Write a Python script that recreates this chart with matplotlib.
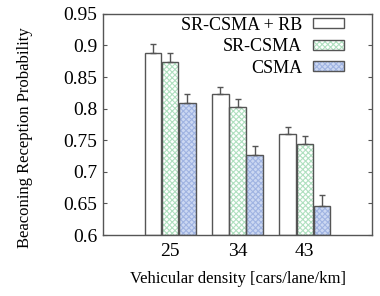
import matplotlib
matplotlib.use("Agg")
import matplotlib.pyplot as plt
from matplotlib.patches import Patch
from matplotlib.legend_handler import HandlerTuple
import numpy as np

plt.rcParams['font.family'] = ['Liberation Serif', 'DejaVu Serif']
plt.rcParams['hatch.linewidth'] = 0.8

densities = ["25", "34", "43"]
schemes = ["SR-CSMA + RB", "SR-CSMA", "CSMA"]
means = {
    "SR-CSMA + RB": [0.888, 0.823, 0.760],
    "SR-CSMA": [0.874, 0.803, 0.744],
    "CSMA": [0.809, 0.727, 0.646],
}
errs = {
    "SR-CSMA + RB": [0.014, 0.011, 0.011],
    "SR-CSMA": [0.014, 0.013, 0.012],
    "CSMA": [0.014, 0.014, 0.018],
}

# face colour, hatch colour, hatch pattern
styles = {
    "SR-CSMA + RB": ("white", "white", None),
    "SR-CSMA": ("white", "#b0e0c0", "xxxxxx"),
    "CSMA": ("#ccd8f2", "#a0b4e2", "xxxxxx"),
}
edge = "#555555"

fig = plt.figure(figsize=(3.8, 2.96), dpi=100)
ax = fig.add_axes([0.271, 0.206, 0.708, 0.747])

x = np.arange(1, len(densities) + 1)
w = 0.245
for i, s in enumerate(schemes):
    pos = x + (i - 1) * (w + 0.01)
    fc, hc, hatch = styles[s]
    ax.bar(pos, np.array(means[s]) - 0.6, w, bottom=0.6, color=fc,
           edgecolor=hc, hatch=hatch, linewidth=0, zorder=2)
    ax.bar(pos, np.array(means[s]) - 0.6, w, bottom=0.6, fill=False,
           edgecolor=edge, linewidth=1.0, zorder=3)
    ax.errorbar(pos, means[s], yerr=[np.zeros(3), errs[s]], fmt="none",
                ecolor=edge, elinewidth=1.0, capsize=2.5, capthick=1.0, zorder=4)

ax.set_xlim(0, 4)
ax.set_ylim(0.6, 0.95)
ax.set_xticks(x)
ax.set_xticklabels(densities)
ax.set_yticks(np.arange(0.6, 0.951, 0.05))
ax.set_yticklabels(["0.6", "0.65", "0.7", "0.75", "0.8", "0.85", "0.9", "0.95"])
ax.tick_params(axis="y", direction="in", right=True, length=3, labelsize=14,
               color=edge, pad=4)
ax.tick_params(axis="x", length=0, labelsize=14, pad=6)
for sp in ax.spines.values():
    sp.set_color(edge)
    sp.set_linewidth(1.0)

ax.set_xlabel("Vehicular density [cars/lane/km]", fontsize=12, labelpad=8)
ax.set_ylabel("Beaconing Reception Probability", fontsize=12)
ax.yaxis.set_label_coords(-0.26, 0.44)

handles = []
for s in schemes:
    fc, hc, hatch = styles[s]
    fill = Patch(facecolor=fc, edgecolor=hc, hatch=hatch, linewidth=0)
    outline = Patch(fill=False, edgecolor=edge, linewidth=1.0)
    handles.append((fill, outline))
leg = ax.legend(handles, schemes, loc="upper right", frameon=False,
                markerfirst=False, fontsize=13, handlelength=1.72,
                handleheight=0.45, labelspacing=0.25, borderaxespad=0,
                bbox_to_anchor=(0.922, 1.02), handletextpad=0.6,
                handler_map={tuple: HandlerTuple(ndivide=1, pad=0)})

fig.savefig("out.png", dpi=100)
